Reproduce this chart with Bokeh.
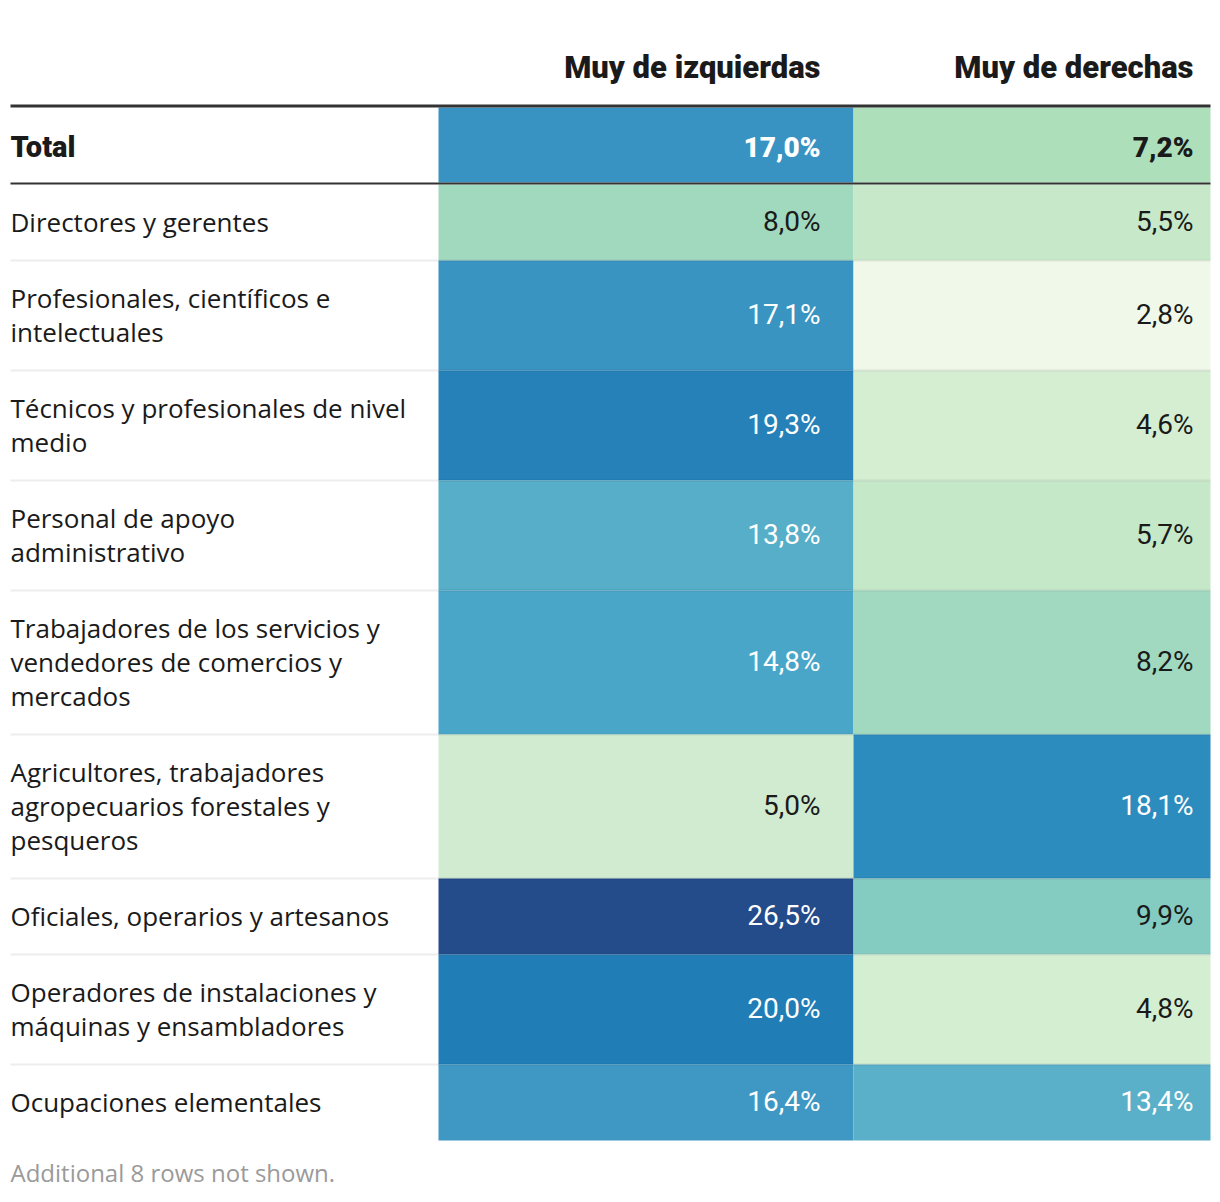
from bokeh.plotting import figure
from bokeh.models import Range1d, ColumnDataSource
from bokeh.core.properties import value
from bokeh.embed import file_html
from bokeh.resources import INLINE

# ---------------- data ----------------
col_headers = ["Muy de izquierdas", "Muy de derechas"]
occupations = [
    "Total",
    "Directores y gerentes",
    "Profesionales, científicos e\nintelectuales",
    "Técnicos y profesionales de nivel\nmedio",
    "Personal de apoyo\nadministrativo",
    "Trabajadores de los servicios y\nvendedores de comercios y\nmercados",
    "Agricultores, trabajadores\nagropecuarios forestales y\npesqueros",
    "Oficiales, operarios y artesanos",
    "Operadores de instalaciones y\nmáquinas y ensambladores",
    "Ocupaciones elementales",
]
muy_izquierdas = [17.0, 8.0, 17.1, 19.3, 13.8, 14.8, 5.0, 26.5, 20.0, 16.4]
muy_derechas = [7.2, 5.5, 2.8, 4.6, 5.7, 8.2, 18.1, 9.9, 4.8, 13.4]
colors_izq = ["#3993c2", "#a1d9be", "#3a94c1", "#2581b8", "#56aec8",
              "#4aa6c9", "#d0ebd0", "#244b8a", "#217db6", "#3f98c4"]
colors_der = ["#addfbb", "#c8e9c9", "#f0f8e9", "#d5eed2", "#c5e8c8",
              "#a0d9c0", "#2d8cbe", "#84cbc1", "#d4eed2", "#5ab0c8"]
footnote = "Additional 8 rows not shown."

# ---------------- layout ----------------
W, H = 1212, 1194
X0, X1 = 10, 1210
COL_L, COL_M, COL_R = 438, 853, 1210
VAL_X = [820, 1193]
TABLE_TOP = 107
LINE_H = 34
LABEL_FONT = value("Open Sans")
HEAVY_FONT = value("Roboto Black, Roboto")
NUM_FONT = value("Roboto")

p = figure(width=W, height=H, x_range=Range1d(0, W), y_range=Range1d(H, 0),
           output_backend="svg", toolbar_location=None, min_border=0)
p.axis.visible = False
p.grid.visible = False
p.outline_line_color = None
p.background_fill_color = "white"
p.border_fill_color = "white"

def fmt(v):
    return f"{v:.1f}".replace(".", ",") + "%"

def text_color(v):
    return "white" if v >= 12 else "#1a1a1a"

tops, bottoms = [], []
y = TABLE_TOP
for i, lab in enumerate(occupations):
    n = len(lab.split("\n"))
    h = 75 if i == 0 else 42 + LINE_H * n
    if i == 1:
        y += 2
    tops.append(y)
    bottoms.append(y + h)
    y += h

# cells
cells = ColumnDataSource(dict(
    left=[COL_L] * len(occupations) + [COL_M] * len(occupations),
    right=[COL_M] * len(occupations) + [COL_R] * len(occupations),
    top=tops + tops,
    bottom=bottoms + bottoms,
    color=colors_izq + colors_der,
))
p.quad(left="left", right="right", top="top", bottom="bottom", fill_color="color",
       line_color=None, source=cells)

# light separators between body rows
sep_y = [bottoms[i] for i in range(1, len(occupations) - 1)]
p.segment(x0=[X0] * len(sep_y), x1=[X1] * len(sep_y), y0=sep_y, y1=sep_y,
          line_color="black", line_alpha=0.07, line_width=2)

# header rule and total rule
p.segment(x0=[X0], x1=[X1], y0=[TABLE_TOP - 1.5], y1=[TABLE_TOP - 1.5],
          line_color="#333333", line_width=3)
p.segment(x0=[X0], x1=[X1], y0=[bottoms[0] + 1], y1=[bottoms[0] + 1],
          line_color="#333333", line_width=2)

# headers
p.text(x=VAL_X, y=[67, 67], text=col_headers, text_align="right", text_baseline="middle",
       text_font=HEAVY_FONT, text_font_style="bold", text_font_size="31px",
       text_color="#1a1a1a")

# row labels
lx, ly, lt = [], [], []
for i, lab in enumerate(occupations):
    lines = lab.split("\n")
    c = (tops[i] + bottoms[i]) / 2
    start = c - (len(lines) - 1) * LINE_H / 2
    for j, ln in enumerate(lines):
        lx.append(X0)
        ly.append(start + j * LINE_H - 1)
        lt.append(ln)
centers = [(t + b) / 2 for t, b in zip(tops, bottoms)]
p.text(x=[X0], y=[centers[0] + 2], text=lt[:1], text_align="left", text_baseline="middle",
       text_font=HEAVY_FONT, text_font_style="bold", text_font_size="29px", text_color="#1a1a1a")
p.text(x=lx[1:], y=ly[1:], text=lt[1:], text_align="left", text_baseline="middle",
       text_font=LABEL_FONT, text_font_size="26px", text_color="#1a1a1a")

# values
for k, (vals, xk) in enumerate(zip([muy_izquierdas, muy_derechas], VAL_X)):
    src = ColumnDataSource(dict(
        x=[xk] * (len(vals) - 1), y=[c - 1.5 for c in centers[1:]],
        t=[fmt(v) for v in vals[1:]], c=[text_color(v) for v in vals[1:]]))
    p.text(x="x", y="y", text="t", text_color="c", source=src, text_align="right",
           text_baseline="middle", text_font=NUM_FONT, text_font_size="28px")
    p.text(x=[xk], y=[centers[0] + 2], text=[fmt(vals[0])], text_color=text_color(vals[0]),
           text_align="right", text_baseline="middle", text_font=HEAVY_FONT,
           text_font_style="bold", text_font_size="28px")

# footnote
p.text(x=[X0], y=[1172], text=[footnote], text_align="left", text_baseline="middle",
       text_font=LABEL_FONT, text_font_size="24px", text_color="#9a9a9a")

open("out.html", "w").write(file_html(p, INLINE))
